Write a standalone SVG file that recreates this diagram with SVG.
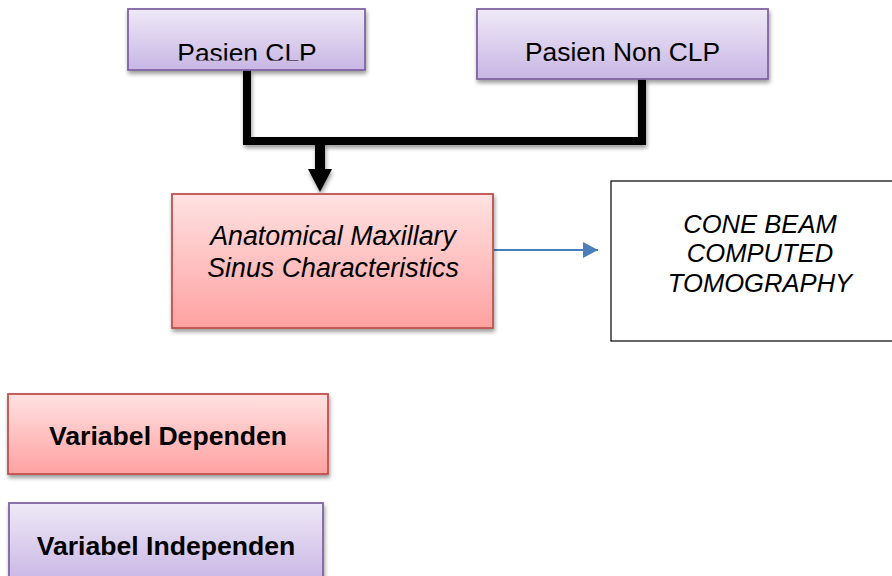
<svg xmlns="http://www.w3.org/2000/svg" width="892" height="576" viewBox="0 0 892 576">
<defs>
<linearGradient id="gPurple" x1="0" y1="0" x2="0" y2="1">
<stop offset="0" stop-color="#efe9f7"/>
<stop offset="1" stop-color="#c8b6e4"/>
</linearGradient>
<linearGradient id="gRed" x1="0" y1="0" x2="0" y2="1">
<stop offset="0" stop-color="#ffe2e2"/>
<stop offset="1" stop-color="#ffa1a1"/>
</linearGradient>
<filter id="shadow" x="-10%" y="-10%" width="130%" height="140%">
<feGaussianBlur in="SourceAlpha" stdDeviation="2"/>
<feOffset dx="1" dy="3" result="b"/>
<feComponentTransfer><feFuncA type="linear" slope="0.4"/></feComponentTransfer>
<feMerge><feMergeNode/><feMergeNode in="SourceGraphic"/></feMerge>
</filter>
<marker id="blueHead" markerUnits="userSpaceOnUse" markerWidth="16" markerHeight="16" refX="15" refY="8" orient="auto">
<path d="M0,0 L15,8 L0,16 Z" fill="#4a7ebb"/>
</marker>
<clipPath id="clipCLP"><rect x="128" y="9" width="237" height="51.5"/></clipPath>
</defs>
<style>
.purple{fill:url(#gPurple);stroke:#8064a2;stroke-width:1.8}
.red{fill:url(#gRed);stroke:#c0504d;stroke-width:1.8}
.t{font-family:"Liberation Sans",Arial,sans-serif;fill:#000;text-anchor:middle}
.it{font-style:italic}
.b{font-weight:bold}
</style>
<g id="connectors">
<g filter="url(#shadow)">
<polyline points="247,70 247,141 642,141 642,79" fill="none" stroke="#000" stroke-width="8" stroke-linejoin="miter"/>
<line x1="320" y1="141" x2="320" y2="171" stroke="#000" stroke-width="10"/>
<path d="M308,169 L332,169 L320,192 Z" fill="#000"/>
</g>
<line x1="494" y1="250" x2="598" y2="250" stroke="#4a7ebb" stroke-width="2" marker-end="url(#blueHead)"/>
</g>
<g id="pasien-clp">
<rect class="purple" x="128" y="9" width="237" height="61" filter="url(#shadow)"/>
<text class="t" x="247" y="61.5" font-size="26.4" clip-path="url(#clipCLP)">Pasien CLP</text>
</g>
<g id="pasien-non-clp">
<rect class="purple" x="477" y="9" width="291" height="70" filter="url(#shadow)"/>
<text class="t" x="622.5" y="61" font-size="26.4">Pasien Non CLP</text>
</g>
<g id="anatomical">
<rect class="red" x="172" y="194" width="321" height="134" filter="url(#shadow)"/>
<text class="t it" x="333" y="245" font-size="26.8">Anatomical Maxillary</text>
<text class="t it" x="333" y="277" font-size="26.8">Sinus Characteristics</text>
</g>
<g id="cbct">
<rect x="611" y="181" width="290" height="160" fill="#fff" stroke="#000" stroke-width="1.2"/>
<text class="t it" x="760" y="233" font-size="25.6">CONE BEAM</text>
<text class="t it" x="760" y="262" font-size="25.6">COMPUTED</text>
<text class="t it" x="760" y="292" font-size="25.6">TOMOGRAPHY</text>
</g>
<g id="variabel-dependen">
<rect class="red" x="8" y="394" width="320" height="80" filter="url(#shadow)"/>
<text class="t b" x="168" y="445" font-size="26.6">Variabel Dependen</text>
</g>
<g id="variabel-independen">
<rect class="purple" x="9" y="503" width="314" height="80" filter="url(#shadow)"/>
<text class="t b" x="166" y="555" font-size="26.6">Variabel Independen</text>
</g>
</svg>
